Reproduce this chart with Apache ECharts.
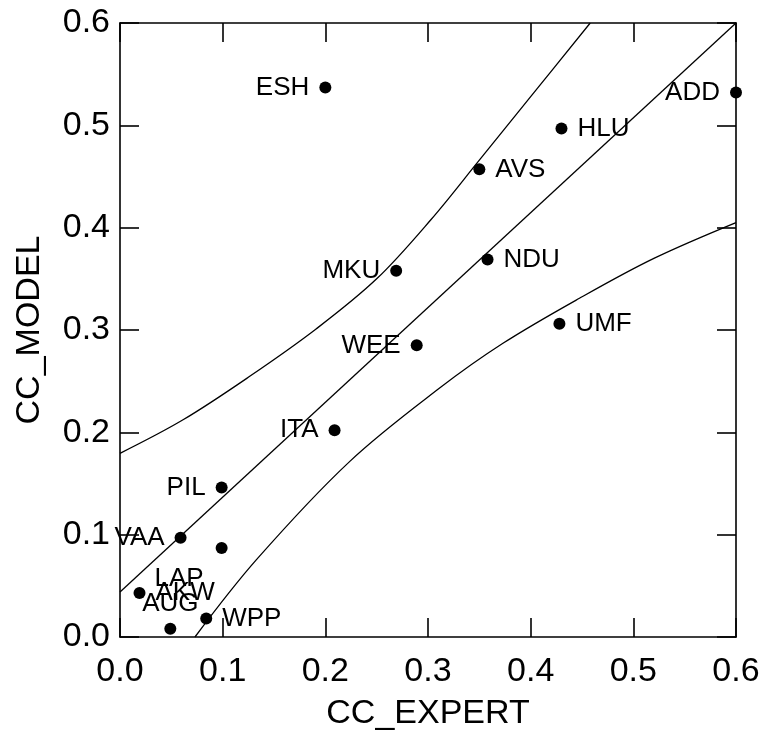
<!DOCTYPE html>
<html>
<head>
<meta charset="utf-8">
<script src="https://cdn.jsdelivr.net/npm/echarts@6/dist/echarts.min.js"></script>
<style>
html,body{margin:0;padding:0;background:#fff;}
#chart{width:763px;height:732px;}
</style>
</head>
<body>
<div id="chart"></div>
<script>
// ---- data ----
const pointNames = ['ESH','ADD','HLU','AVS','MKU','NDU','UMF','WEE','ITA','PIL','VAA','LAP','AKW','AUG','WPP'];
const ccExpert   = [0.200,0.600,0.430,0.350,0.269,0.358,0.428,0.289,0.209,0.099,0.059,0.099,0.019,0.049,0.084];
const ccModel    = [0.537,0.532,0.497,0.457,0.358,0.369,0.306,0.285,0.202,0.146,0.097,0.087,0.043,0.008,0.018];
const labelSide  = ['left','left','right','right','left','right','right','left','left','left','left','lap','right','top','right'];

const fitLine   = [[0,0.044],[0.6,0.6]];
const upperBand = [[0,0.1795],[0.061,0.212],[0.126,0.2545],[0.191,0.301],[0.25,0.350],[0.303,0.408],[0.35,0.466],[0.40,0.528],[0.458,0.6]];
const lowerBand = [[0.073,0],[0.1327,0.0753],[0.2236,0.1714],[0.311,0.243],[0.373,0.287],[0.4475,0.331],[0.52,0.37],[0.6,0.405]];

const xTicks = [0,0.1,0.2,0.3,0.4,0.5,0.6];
const yTicks = [0,0.1,0.2,0.3,0.4,0.5,0.6];

// ---- chart ----
const FONT = 'Liberation Sans, Arial, sans-serif';
const chart = echarts.init(document.getElementById('chart'), null, {renderer:'canvas'});

const lineStyleAxis = {color:'#000', width:1.6};
function mkAxis(pos, showLabel, name, nameGap) {
  return {
    type:'value', position:pos, min:xTicks[0], max:xTicks[xTicks.length-1], interval:0.1,
    name: name || '', nameLocation:'middle', nameGap: nameGap || 0,
    nameTextStyle:{fontFamily:FONT, fontSize:34, color:'#000'},
    axisLine:{show:true, onZero:false, lineStyle:lineStyleAxis},
    axisTick:{show:true, inside:true, length:19, lineStyle:lineStyleAxis},
    splitLine:{show:false},
    axisLabel:{show:showLabel, fontFamily:FONT, fontSize:34, color:'#000',
      margin: (pos==='bottom') ? 18 : 10,
      formatter:(v)=>{ return v.toFixed(1); }}
  };
}

const scatterData = pointNames.map((n,i)=>{
  const side = labelSide[i];
  let label;
  if (side === 'lap') {
    label = {position:'left', distance:12, offset:[0,31]};
  } else if (side === 'top') {
    label = {position:'top', distance:6};
  } else {
    label = {position:side, distance:10};
  }
  return {value:[ccExpert[i], ccModel[i]], name:n, label:label};
});

const lineCommon = {
  type:'line', symbol:'none', silent:true, clip:true,
  lineStyle:{color:'#000', width:1.3, opacity:1}, z:2
};

chart.setOption({
  animation:false,
  backgroundColor:'#fff',
  grid:{left:120, right:27, top:23, bottom:95, containLabel:false, outerBoundsMode:'none'},
  xAxis:[mkAxis('bottom', true, 'CC_EXPERT', 60), mkAxis('top', false)],
  yAxis:[mkAxis('left', true, 'CC_MODEL', 73), mkAxis('right', false)],
  series:[
    Object.assign({}, lineCommon, {data:fitLine}),
    Object.assign({}, lineCommon, {data:upperBand, smooth:0.35}),
    Object.assign({}, lineCommon, {data:lowerBand, smooth:0.35}),
    {
      type:'scatter', symbol:'circle', symbolSize:12, z:3,
      itemStyle:{color:'#000', opacity:1},
      label:{show:true, formatter:'{b}', fontFamily:FONT, fontSize:26, color:'#000', opacity:1},
      data:scatterData
    }
  ]
});
</script>
</body>
</html>
